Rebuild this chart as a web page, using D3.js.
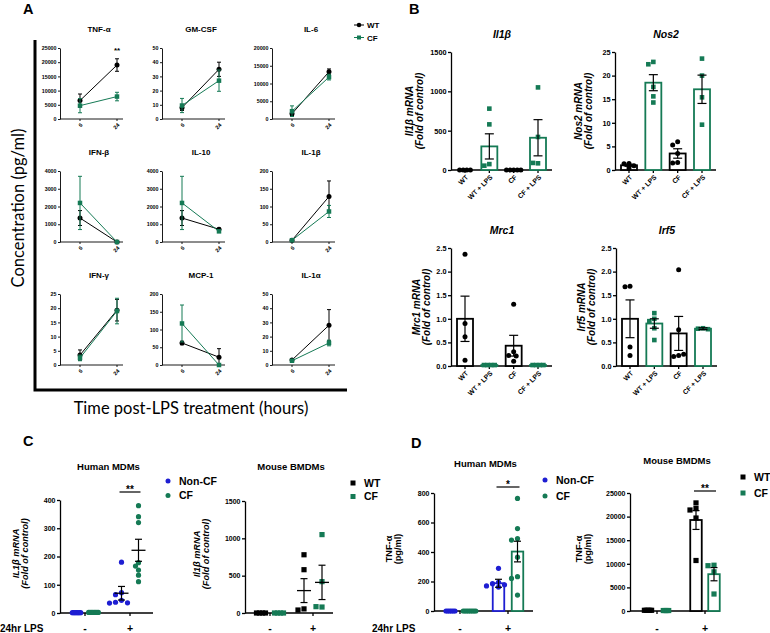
<!DOCTYPE html>
<html><head><meta charset="utf-8">
<script src="https://cdn.jsdelivr.net/npm/d3@7"></script>
<style>
body{margin:0;background:#fff}
svg text{font-family:"Liberation Sans",Arial,sans-serif;fill:#000}
</style></head><body>
<svg id="c" width="770" height="633"></svg>
<script>
// ---------------- DATA ----------------
// Panel A: cytokine time course (6 h, 24 h)
const timeLabels = ["6", "24"];
const cytokines = ["TNF-α","GM-CSF","IL-6","IFN-β","IL-10","IL-1β","IFN-γ","MCP-1","IL-1α"];
const cytoMax  = [25000, 50, 20000, 4000, 4000, 200, 25, 200, 50];
const cytoStep = [5000, 10, 5000, 1000, 1000, 50, 5, 50, 10];
const wtMean = [[6500,19000],[8,35],[1500,13300],[1350,0],[1350,720],[5,128],[3.5,19.3],[62,22],[3.5,28]];
const wtSem  = [[2300,2200],[2,5],[500,800],[420,30],[420,60],[2,44],[1.8,3.8],[5,24],[0.5,11]];
const cfMean = [[4700,7900],[9.5,27],[2200,11800],[2200,0],[2200,600],[5,86],[2.5,19],[117,0],[3,15.5]];
const cfSem  = [[2500,1500],[5,7.5],[1500,800],[1500,20],[1500,50],[2,17],[1,4.5],[52,2],[0.5,2]];
const aSeries = ["WT","CF"];

// Panel B: mRNA fold of control
const bCats = ["WT","WT + LPS","CF","CF + LPS"];
const bGenes = ["Il1β","Nos2","Mrc1","Irf5"];
const il1bPts  = [[0,0,0,0],[780,580,75,55],[0,0,0,0,0],[1050,420,85,90]];
const il1bMean = [0,300,0,410];
const il1bSem  = [0,160,0,230];
const nos2Pts  = [[1.4,1.3,0.9,0.4],[22.9,22.4,17.6,15.6,14.3],[6.0,5.3,3.5,1.6,1.5],[23.6,20.0,15.4,9.6]];
const nos2Mean = [1.0,18.5,3.5,17.1];
const nos2Sem  = [0.22,1.7,1.0,3.0];
const mrc1Pts  = [[2.37,0.9,0.62,0.12],[0.02,0.02,0.02,0.02],[1.31,0.3,0.22,0.1,0.21],[0.02,0.02,0.02,0.02]];
const mrc1Mean = [1.0,0.02,0.43,0.02];
const mrc1Sem  = [0.48,0,0.22,0];
const irf5Pts  = [[1.69,1.68,0.4,0.22],[1.12,1.0,0.95,0.8,0.55],[2.04,0.77,0.22,0.2,0.25],[0.8,0.79,0.78]];
const irf5Mean = [1.0,0.9,0.69,0.79];
const irf5Sem  = [0.4,0.1,0.36,0.02];

// Panels C & D: 24 h LPS (- / +)
const lpsCats = ["-","+"];
const humanGroups = ["Non-CF","CF"];
const mouseGroups = ["WT","CF"];
// C: IL1β mRNA
const cHumanNonCF = [[1,1,1,1,1,1,1],[180,72,65,45,38,36,35]];
const cHumanCF    = [[2,2,2,2,2,2,2,2],[380,341,320,178,166,152,134,111]];
const cHumanNonCFMean = [1,70],  cHumanNonCFSem = [0,24];
const cHumanCFMean    = [2,222], cHumanCFSem    = [0,39];
const cMouseWT = [[0,0,0,0],[780,580,55,40]];
const cMouseCF = [[0,0,0,0],[1050,420,80,85]];
const cMouseWTMean = [0,300], cMouseWTSem = [0,160];
const cMouseCFMean = [0,410], cMouseCFSem = [0,230];
// D: TNF-α (pg/ml)
const dHumanNonCF = [[0,0,0,0,0,0],[289,195,185,178,170,162]];
const dHumanCF    = [[0,0,0,0,0,0,0,0],[763,559,491,481,365,233,221,108]];
const dHumanNonCFMean = [0,188], dHumanNonCFSem = [0,27];
const dHumanCFMean    = [0,403], dHumanCFSem    = [0,70];
const dMouseWT = [[150,150,150,150,150],[22900,21700,21400,19700,10700]];
const dMouseCF = [[100,100,100,100],[9700,9600,8300,3600]];
const dMouseWTMean = [150,19280], dMouseWTSem = [0,2000];
const dMouseCFMean = [100,7800],  dMouseCFSem = [0,1400];

// ---------------- DRAWING ----------------
const svg = d3.select("#c");
const GREEN = "#157a55", BLUE = "#1e1ed2", BLACK = "#000";

function yAxis(g, y, ticks, fmt, fs, tsize, sw){
  const ax = g.append("g").call(d3.axisLeft(y).tickValues(ticks).tickFormat(fmt).tickSize(tsize).tickSizeOuter(0).tickPadding(1.5));
  ax.select(".domain").attr("stroke","#000").attr("stroke-width",sw);
  ax.selectAll(".tick line").attr("stroke","#000").attr("stroke-width",sw);
  ax.selectAll(".tick text").attr("font-size",fs).attr("font-weight","bold").attr("fill","#000");
  return ax;
}
function xBase(g, w, h, xs, sw, tsize){
  g.append("line").attr("x1",0).attr("x2",w).attr("y1",h).attr("y2",h).attr("stroke","#000").attr("stroke-width",sw);
  xs.forEach(x=>g.append("line").attr("x1",x).attr("x2",x).attr("y1",h).attr("y2",h+tsize).attr("stroke","#000").attr("stroke-width",sw));
}
function marker(g, shape, x, y, s, color){
  if(shape==="circle") g.append("circle").attr("cx",x).attr("cy",y).attr("r",s/2).attr("fill",color);
  else g.append("rect").attr("x",x-s/2).attr("y",y-s/2).attr("width",s).attr("height",s).attr("fill",color);
}
function errBar(g, x, y, mean, sem, cap, color, sw){
  if(!(sem>0)) return;
  const y1 = y(mean+sem), y2 = y(Math.max(0,mean-sem));
  g.append("line").attr("x1",x).attr("x2",x).attr("y1",y1).attr("y2",y2).attr("stroke",color).attr("stroke-width",sw);
  [y1,y2].forEach(yy=>g.append("line").attr("x1",x-cap/2).attr("x2",x+cap/2).attr("y1",yy).attr("y2",yy).attr("stroke",color).attr("stroke-width",sw));
}
function layoutPoints(vals, y, minDist, step, tieGap){
  const offs = new Array(vals.length).fill(null);
  const groups = d3.group(d3.range(vals.length), i=>vals[i]);
  const placed = [];
  groups.forEach((idxs,v)=>{
    if(idxs.length>1){
      idxs.forEach((i,k)=>{ offs[i]=(k-(idxs.length-1)/2)*tieGap; placed.push([offs[i],y(v)]); });
    }
  });
  vals.forEach((v,i)=>{
    if(offs[i]!==null) return;
    const py = y(v);
    const cands=[0]; for(let k=1;k<15;k++) cands.push(-k*step,k*step);
    let off = 0;
    for(const c of cands){ if(placed.every(p=>Math.hypot(p[0]-c,p[1]-py)>=minDist)){ off=c; break; } }
    offs[i]=off; placed.push([off,py]);
  });
  return offs;
}
function panelLetter(t,x,y){
  svg.append("text").attr("x",x).attr("y",y).attr("font-size",14.5).attr("font-weight","bold").text(t);
}

// ===== Panel A =====
panelLetter("A",23,13.5);
svg.append("path").attr("d","M35,40 V390 H347").attr("fill","none").attr("stroke","#000").attr("stroke-width",3);
svg.append("text").attr("transform","translate(24,208) rotate(-90)").attr("text-anchor","middle")
  .attr("font-size",16.5).style("font-family","Lato, 'Open Sans', sans-serif").text("Concentration (pg/ml)");
svg.append("text").attr("x",191).attr("y",414).attr("text-anchor","middle")
  .attr("font-size",16.5).style("font-family","Lato, 'Open Sans', sans-serif").text("Time post-LPS treatment (hours)");

const aCols=[60,162,272], aRows=[48,171,294], aW=63, aH=71;
cytokines.forEach((name,i)=>{
  const gx=aCols[i%3], gy=aRows[Math.floor(i/3)];
  const g=svg.append("g").attr("transform",`translate(${gx},${gy})`);
  const x=d3.scalePoint().domain(timeLabels).range([20,57]);
  const y=d3.scaleLinear().domain([0,cytoMax[i]]).range([aH,0]);
  yAxis(g,y,d3.range(0,cytoMax[i]+1e-9,cytoStep[i]),d3.format("d"),5.3,2,0.9);
  xBase(g,aW,aH,timeLabels.map(t=>x(t)),0.9,2);
  timeLabels.forEach(t=>{
    g.append("text").attr("transform",`translate(${x(t)+1.5},${aH+5}) rotate(-45)`).attr("text-anchor","end")
      .attr("dy","0.35em").attr("font-size",5.5).attr("font-weight","bold").text(t);
  });
  g.append("text").attr("x",39).attr("y",-16.5).attr("text-anchor","middle").attr("font-size",8).attr("font-weight","bold").text(name);
  const series=[{m:wtMean[i],s:wtSem[i],c:BLACK,sh:"circle"},{m:cfMean[i],s:cfSem[i],c:GREEN,sh:"rect"}];
  series.forEach(sr=>{
    const line=d3.line().x((d,k)=>x(timeLabels[k])).y(d=>y(d));
    g.append("path").attr("d",line(sr.m)).attr("fill","none").attr("stroke",sr.c).attr("stroke-width",1);
    sr.m.forEach((v,k)=>errBar(g,x(timeLabels[k]),y,v,sr.s[k],4,sr.c,1));
    sr.m.forEach((v,k)=>marker(g,sr.sh,x(timeLabels[k]),y(v),sr.sh==="circle"?5:4.5,sr.c));
  });
  if(i===0){
    g.append("text").attr("x",x("24")).attr("y",5).attr("text-anchor","middle").attr("font-size",8).attr("font-weight","bold").text("**");
  }
});
// legend A
aSeries.forEach((s,k)=>{
  const yy=25+k*12.5, c=k===0?BLACK:GREEN;
  svg.append("line").attr("x1",354).attr("x2",364).attr("y1",yy).attr("y2",yy).attr("stroke",c).attr("stroke-width",1);
  marker(svg,k===0?"circle":"rect",359,yy,k===0?4.5:4,c);
  svg.append("text").attr("x",367).attr("y",yy+3).attr("font-size",8).attr("font-weight","bold").text(s);
});

// ===== Panel B =====
panelLetter("B",409,13.5);
const bPanels=[
  {gene:bGenes[0],pts:il1bPts,mean:il1bMean,sem:il1bSem,max:1500,ticks:[0,500,1000,1500],fmt:d3.format("d"),x0:451,top:52,lab:[-38,-28.5]},
  {gene:bGenes[1],pts:nos2Pts,mean:nos2Mean,sem:nos2Sem,max:25,ticks:[0,5,10,15,20,25],fmt:d3.format("d"),x0:615,top:52,lab:[-33,-23.5]},
  {gene:bGenes[2],pts:mrc1Pts,mean:mrc1Mean,sem:mrc1Sem,max:2.5,ticks:[0,0.5,1,1.5,2,2.5],fmt:d3.format(".1f"),x0:451,top:248,lab:[-31,-21.5]},
  {gene:bGenes[3],pts:irf5Pts,mean:irf5Mean,sem:irf5Sem,max:2.5,ticks:[0,0.5,1,1.5,2,2.5],fmt:d3.format(".1f"),x0:616,top:248,lab:[-31,-21.5]}
];
const bColors=[BLACK,GREEN,BLACK,GREEN], bShapes=["circle","rect","circle","rect"];
bPanels.forEach(p=>{
  const w=101,h=118;
  const g=svg.append("g").attr("transform",`translate(${p.x0},${p.top})`);
  const x=d3.scalePoint().domain(bCats).range([14,87]);
  const y=d3.scaleLinear().domain([0,p.max]).range([h,0]);
  yAxis(g,y,p.ticks,p.fmt,7.3,3,1.3);
  xBase(g,w,h,bCats.map(c=>x(c)),1.3,3);
  bCats.forEach((c,k)=>{
    g.append("text").attr("transform",`translate(${x(c)+2},${h+6}) rotate(-45)`).attr("text-anchor","end")
      .attr("dy","0.35em").attr("font-size",6.8).attr("font-weight","bold").text(c);
    const col=bColors[k];
    const bw=16;
    g.append("rect").attr("x",x(c)-bw/2).attr("y",y(p.mean[k])).attr("width",bw).attr("height",Math.max(0,h-y(p.mean[k])))
      .attr("fill","#fff").attr("stroke",col).attr("stroke-width",1.8);
    const offs=layoutPoints(p.pts[k],y,4.6,2.5,3.6);
    p.pts[k].forEach((v,j)=>marker(g,bShapes[k],x(c)+offs[j],y(v),bShapes[k]==="circle"?5:4.6,col));
    errBar(g,x(c),y,p.mean[k],p.sem[k],9,BLACK,1.2);
  });
  g.append("text").attr("x",51).attr("y",-14).attr("text-anchor","middle").attr("font-size",10.5).attr("font-weight","bold").attr("font-style","italic").text(p.gene);
  [p.gene+" mRNA","(Fold of control)"].forEach((t,j)=>{
    g.append("text").attr("transform",`translate(${p.lab[j]},${h/2}) rotate(-90)`).attr("text-anchor","middle")
      .attr("font-size",10).attr("font-weight","bold").attr("font-style","italic").text(t);
  });
});

// ===== Panels C & D =====
panelLetter("C",23,445.5);
panelLetter("D",411,447.5);
const cdPanels=[
  {title:"Human MDMs",x0:60,top:500,w:93,h:113,max:400,ticks:[0,100,200,300,400],cat:[25,70],off:8.5,bars:false,
   groups:[{name:humanGroups[0],c:BLUE,sh:"circle",pts:cHumanNonCF,m:cHumanNonCFMean,s:cHumanNonCFSem},
           {name:humanGroups[1],c:GREEN,sh:"circle",pts:cHumanCF,m:cHumanCFMean,s:cHumanCFSem}],
   ylab:["IL1β mRNA","(Fold of control)"],italic:true,lab:[-41,-32],tieGap:1.4,leg:[168,481,14.5],sig:"**",sigY:492,tdy:-33},
  {title:"Mouse BMDMs",x0:245,top:501,w:88,h:112,max:1500,ticks:[0,500,1000,1500],cat:[25,68],off:9,bars:false,
   groups:[{name:mouseGroups[0],c:BLACK,sh:"rect",pts:cMouseWT,m:cMouseWTMean,s:cMouseWTSem},
           {name:mouseGroups[1],c:GREEN,sh:"rect",pts:cMouseCF,m:cMouseCFMean,s:cMouseCFSem}],
   ylab:["Il1β mRNA","(Fold of control)"],italic:true,lab:[-45,-36],tieGap:3,leg:[353,483,13.5],sig:null,tdy:-34},
  {title:"Human MDMs",x0:434,top:493,w:99,h:118,max:800,ticks:[0,200,400,600,800],cat:[26,74],off:9.5,bars:true,
   groups:[{name:humanGroups[0],c:BLUE,sh:"circle",pts:dHumanNonCF,m:dHumanNonCFMean,s:dHumanNonCFSem},
           {name:humanGroups[1],c:GREEN,sh:"circle",pts:dHumanCF,m:dHumanCFMean,s:dHumanCFSem}],
   ylab:["TNF-α","(pg/ml)"],italic:false,lab:[-42,-33],tieGap:1.8,leg:[545,480,16],sig:"*",sigY:487,tdy:-29},
  {title:"Mouse BMDMs",x0:630,top:493,w:90,h:118,max:25000,ticks:[0,5000,10000,15000,20000,25000],cat:[27,75],off:9,bars:true,
   groups:[{name:mouseGroups[0],c:BLACK,sh:"rect",pts:dMouseWT,m:dMouseWTMean,s:dMouseWTSem},
           {name:mouseGroups[1],c:GREEN,sh:"rect",pts:dMouseCF,m:dMouseCFMean,s:dMouseCFSem}],
   ylab:["TNF-α","(pg/ml)"],italic:false,lab:[-48,-39],tieGap:1.8,leg:[743,477,16],sig:"**",sigY:491,tdy:-32}
];
cdPanels.forEach((p,pi)=>{
  const g=svg.append("g").attr("transform",`translate(${p.x0},${p.top})`);
  const x=d3.scalePoint().domain(lpsCats).range(p.cat);
  const gx=d3.scalePoint().domain(p.groups.map(d=>d.name)).range([-p.off,p.off]);
  const y=d3.scaleLinear().domain([0,p.max]).range([p.h,0]);
  yAxis(g,y,p.ticks,d3.format("d"),7,3,1.3);
  xBase(g,p.w,p.h,lpsCats.map(c=>x(c)),1.3,3);
  lpsCats.forEach(c=>{
    g.append("text").attr("x",x(c)).attr("y",632-p.top).attr("text-anchor","middle").attr("font-size",10.5).attr("font-weight","bold").text(c);
  });
  p.groups.forEach(gr=>{
    lpsCats.forEach((c,k)=>{
      const cx=x(c)+gx(gr.name);
      if(p.bars && k===1){
        const bw=11.5;
        g.append("rect").attr("x",cx-bw/2).attr("y",y(gr.m[k])).attr("width",bw).attr("height",p.h-y(gr.m[k]))
          .attr("fill","#fff").attr("stroke",gr.c).attr("stroke-width",1.8);
      }
      const offs=layoutPoints(gr.pts[k],y,4.2,3,p.tieGap);
      gr.pts[k].forEach((v,j)=>marker(g,gr.sh,cx+offs[j],y(v),5.2,gr.c));
      if(!p.bars && gr.m[k]>5){
        g.append("line").attr("x1",cx-7).attr("x2",cx+7).attr("y1",y(gr.m[k])).attr("y2",y(gr.m[k])).attr("stroke","#000").attr("stroke-width",1.3);
      }
      errBar(g,cx,y,gr.m[k],gr.s[k],7,BLACK,1.2);
    });
  });
  g.append("text").attr("x",p.w/2+2).attr("y",p.tdy+3).attr("text-anchor","middle").attr("font-size",9.5).attr("font-weight","bold").text(p.title);
  p.ylab.forEach((t,j)=>{
    g.append("text").attr("transform",`translate(${p.lab[j]},${p.h/2-3}) rotate(-90)`).attr("text-anchor","middle")
      .attr("font-size",9.2).attr("font-weight","bold").attr("font-style",p.italic?"italic":"normal").text(t);
  });
  // legend
  p.groups.forEach((gr,k)=>{
    const ly=p.leg[1]+k*p.leg[2];
    marker(svg,gr.sh,p.leg[0],ly,5,gr.c);
    svg.append("text").attr("x",p.leg[0]+11).attr("y",ly+3.8).attr("font-size",10.5).attr("font-weight","bold").text(gr.name);
  });
  if(p.sig){
    const x1=x("+")+gx(p.groups[0].name), x2=x("+")+gx(p.groups[1].name);
    svg.append("line").attr("x1",p.x0+x1-2).attr("x2",p.x0+x2+2).attr("y1",p.sigY).attr("y2",p.sigY).attr("stroke","#000").attr("stroke-width",1.2);
    svg.append("text").attr("x",p.x0+(x1+x2)/2).attr("y",p.sigY+0.5).attr("text-anchor","middle").attr("font-size",10).attr("font-weight","bold").text(p.sig);
  }
});
svg.append("text").attr("x",0).attr("y",632).attr("font-size",10).attr("font-weight","bold").text("24hr LPS");
svg.append("text").attr("x",372).attr("y",632).attr("font-size",10).attr("font-weight","bold").text("24hr LPS");
</script>
</body></html>
